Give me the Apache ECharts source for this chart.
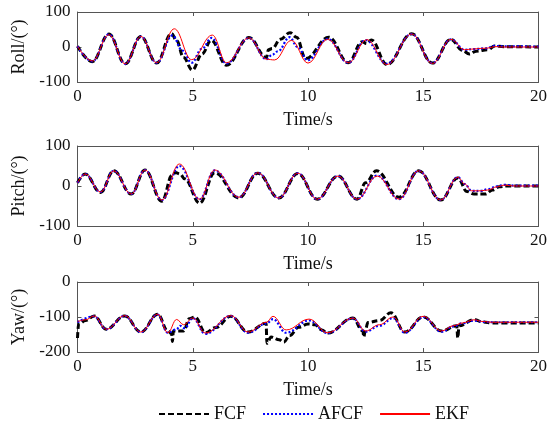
<!DOCTYPE html>
<html>
<head>
<meta charset="utf-8">
<script src="https://cdn.jsdelivr.net/npm/echarts@6/dist/echarts.min.js"></script>
<style>html,body{margin:0;padding:0;background:#fff;}#c{width:550px;height:428px;}</style>
</head>
<body>
<div id="c"></div>
<script>
// ---- data: [time (s), angle (deg)] ----
var seriesNames = ['FCF', 'AFCF', 'EKF'];
var axisNames = ['Roll/(°)', 'Pitch/(°)', 'Yaw/(°)'];
var xTicks = [0, 5, 10, 15, 20];
var yRanges = [[-100, 100], [-100, 100], [-200, 0]];

var rollFCF = [[0,2],[0.64,-42],[1.36,37],[2.07,-48],[2.75,30],[3.43,-46],[4.08,38],[4.3,18],[4.6,-30],[4.98,-66],[5.4,-20],[5.8,19],[6.46,-52],[7.44,27],[8.2,-30],[8.28,-8],[8.45,-4],[8.8,22],[9.22,41],[9.5,28],[9.9,-33],[10.9,28],[11.75,-45],[12.35,15],[12.55,10],[12.75,20],[13.42,-50],[14.5,38],[15.4,-46],[16.2,22],[16.7,-10],[17.0,-20],[17.3,-12],[17.8,-8],[18.1,3],[18.5,1],[20,0]];
var rollAFCF = [[0,2],[0.64,-41],[1.36,36],[2.07,-48],[2.75,30],[3.43,-45],[4.12,33],[4.55,-10],[4.95,-45],[5.4,-5],[5.82,26],[6.46,-47],[7.44,26],[8.2,-35],[8.45,-22],[8.7,-12],[9.2,28],[9.55,0],[9.98,-38],[10.85,23],[11.75,-45],[12.5,20],[13.42,-48],[14.5,37],[15.4,-46],[16.2,22],[16.8,-8],[17.2,-6],[17.7,-4],[18.1,3],[18.5,2],[20,1]];
var rollEKF = [[0,2],[0.64,-40],[1.36,35],[2.07,-48],[2.75,30],[3.43,-45],[4.2,52],[4.95,-36],[5.85,34],[6.46,-45],[7.44,26],[8.2,-35],[8.55,-37],[9.28,19],[10.0,-46],[10.85,22],[11.75,-45],[12.55,21],[13.42,-50],[14.5,37],[15.4,-47],[16.2,22],[16.8,-8],[17.1,-6],[17.5,-4],[17.8,-3],[18.1,1],[18.5,0],[20,0]];

var pitchFCF = [[0,8],[0.33,30],[1.0,-16],[1.57,38],[2.33,-20],[2.93,40],[3.66,-38],[4.12,28],[4.25,34],[4.45,30],[4.65,18],[5.3,-43],[5.95,33],[7.0,-30],[7.82,32],[8.73,-30],[9.56,31],[10.4,-33],[11.3,25],[12.13,-33],[12.5,8],[12.97,38],[13.95,-28],[14.8,38],[15.76,-35],[16.5,20],[16.9,-14],[17.2,-20],[17.7,-20],[18.0,-10],[18.3,-2],[18.6,0],[20,0]];
var pitchAFCF = [[0,8],[0.33,30],[1.0,-15],[1.57,38],[2.33,-20],[2.93,40],[3.66,-35],[4.42,50],[5.3,-33],[5.95,39],[7.0,-28],[7.82,33],[8.73,-30],[9.56,32],[10.4,-33],[11.3,25],[12.13,-33],[13.0,26],[13.95,-33],[14.8,38],[15.76,-35],[16.5,22],[16.8,5],[17.1,-12],[17.5,-12],[17.8,-8],[18.2,-1],[18.5,3],[19,1],[20,1]];
var pitchEKF = [[0,8],[0.33,30],[1.0,-15],[1.57,38],[2.33,-20],[2.93,40],[3.66,-35],[4.42,55],[5.3,-33],[5.95,40],[7.0,-28],[7.82,33],[8.73,-30],[9.56,32],[10.4,-33],[11.3,25],[12.13,-33],[13.0,25],[13.95,-33],[14.8,38],[15.76,-35],[16.5,22],[16.8,5],[17.1,-12],[17.5,-12],[17.8,-10],[18.2,-2],[18.5,2],[19,0],[20,0]];

var yawFCF = [[0,-160],[0.05,-120],[0.35,-110],[0.72,-97],[1.25,-135],[2.05,-97],[2.75,-143],[3.48,-92],[3.92,-140],[4.08,-148],[4.12,-170],[4.16,-140],[4.6,-140],[4.85,-105],[5.1,-100],[5.55,-145],[6.0,-130],[6.65,-98],[7.4,-143],[8.18,-118],[8.22,-175],[8.4,-157],[8.75,-165],[8.95,-172],[9.2,-153],[9.6,-129],[10.0,-120],[10.3,-122],[10.6,-137],[10.85,-146],[11.95,-103],[12.38,-140],[12.42,-157],[12.48,-140],[12.6,-116],[13.1,-110],[13.6,-88],[14.2,-143],[15.0,-100],[15.8,-140],[16.45,-125],[16.5,-160],[16.55,-125],[17.2,-108],[17.6,-114],[18,-117],[20,-117]];
var yawAFCF = [[0,-115],[0.72,-98],[1.25,-135],[2.05,-97],[2.75,-143],[3.48,-93],[3.92,-145],[4.3,-135],[4.45,-125],[4.65,-132],[5.0,-103],[5.55,-148],[6.65,-97],[7.4,-145],[8.2,-118],[8.48,-106],[9.05,-145],[10.05,-110],[10.85,-146],[11.95,-104],[12.5,-142],[13.1,-125],[13.7,-103],[14.2,-145],[15.0,-100],[15.8,-142],[16.3,-127],[16.7,-118],[17.2,-110],[17.6,-114],[18,-115],[20,-115]];
var yawEKF = [[0,-113],[0.35,-108],[0.72,-97],[1.25,-135],[2.05,-96],[2.75,-143],[3.48,-92],[3.92,-145],[4.3,-107],[4.6,-122],[5.0,-103],[5.55,-146],[6.65,-96],[7.4,-143],[8.2,-115],[8.48,-98],[9.05,-137],[10.05,-106],[10.85,-145],[11.95,-103],[12.5,-140],[13.1,-122],[13.7,-100],[14.2,-143],[15.0,-98],[15.8,-140],[16.3,-125],[16.7,-117],[17.2,-108],[17.6,-113],[18,-115],[20,-115]];

var plotData = [[rollFCF, rollAFCF, rollEKF], [pitchFCF, pitchAFCF, pitchEKF], [yawFCF, yawAFCF, yawEKF]];

// ---- styles ----
var font = 'Liberation Serif';
var axisColor = '#555';
var gridPos = [{top: 12, height: 70}, {top: 146, height: 80}, {top: 282, height: 70}];
var styles = [
  {color: '#000000', width: 3, type: [6, 3]},
  {color: '#0000ff', width: 2.2, type: [2, 2]},
  {color: '#ff0000', width: 1, type: 'solid'}
];

var grids = [], xAxes = [], yAxes = [], series = [];
for (var g = 0; g < 3; g++) {
  grids.push({left: 77.5, right: 9, top: gridPos[g].top, height: gridPos[g].height, containLabel: false});
  var common = {
    type: 'value', gridIndex: g, min: xTicks[0], max: xTicks[xTicks.length - 1], interval: 5,
    axisLine: {onZero: false, lineStyle: {color: axisColor, width: 1}},
    axisTick: {inside: true, length: 4, lineStyle: {color: axisColor}},
    splitLine: {show: false}
  };
  xAxes.push(Object.assign({}, common, {
    position: 'bottom', name: 'Time/s', nameLocation: 'middle', nameGap: 29,
    nameTextStyle: {fontFamily: font, fontSize: 18, color: '#111'},
    axisLabel: {fontFamily: font, fontSize: 17, color: '#111', margin: 6}
  }));
  xAxes.push(Object.assign({}, common, {position: 'top', axisLabel: {show: false}}));
  var ycommon = {
    type: 'value', gridIndex: g, min: yRanges[g][0], max: yRanges[g][1], interval: 100,
    axisLine: {show: true, onZero: false, lineStyle: {color: axisColor, width: 1}},
    axisTick: {show: true, inside: true, length: 4, lineStyle: {color: axisColor}},
    splitLine: {show: false}
  };
  yAxes.push(Object.assign({}, ycommon, {
    position: 'left', name: axisNames[g], nameLocation: 'middle', nameGap: 49,
    nameTextStyle: {fontFamily: font, fontSize: 18, color: '#111'},
    axisLabel: {fontFamily: font, fontSize: 17, color: '#111', margin: 7}
  }));
  yAxes.push(Object.assign({}, ycommon, {position: 'right', axisLabel: {show: false}}));
  for (var s = 0; s < 3; s++) {
    series.push({
      type: 'line', name: seriesNames[s], xAxisIndex: 2 * g, yAxisIndex: 2 * g,
      data: plotData[g][s], symbol: 'none', smooth: 0.4, smoothMonotone: 'x',
      lineStyle: {color: styles[s].color, width: styles[s].width, type: styles[s].type},
      itemStyle: {color: styles[s].color}, z: 2 + s
    });
  }
}

var chart = echarts.init(document.getElementById('c'), null, {renderer: 'canvas'});
chart.setOption({
  animation: false,
  backgroundColor: '#fff',
  grid: grids, xAxis: xAxes, yAxis: yAxes, series: series,
  legend: {
    data: seriesNames, left: 153, top: 400, itemWidth: 50, itemHeight: 14, itemGap: 16,
    itemStyle: {color: 'rgba(0,0,0,0)', borderWidth: 0, opacity: 0},
    textStyle: {fontFamily: font, fontSize: 18, color: '#111'}
  }
});
</script>
</body>
</html>
